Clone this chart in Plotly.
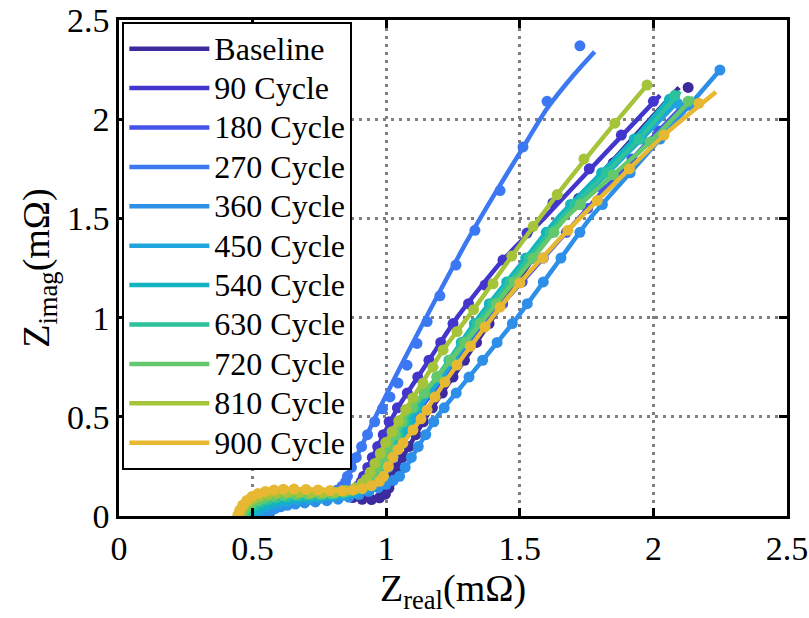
import plotly.graph_objects as go

# Nyquist data: measured impedance points (markers) and fitted model curves (lines), in mΩ
LABELS = ["Baseline", "90 Cycle", "180 Cycle", "270 Cycle", "360 Cycle", "450 Cycle",
          "540 Cycle", "630 Cycle", "720 Cycle", "810 Cycle", "900 Cycle"]
COLORS = ["#3d2a9e", "#4236cc", "#4653ea", "#3b78f2", "#2d8fe8", "#1fa5dc",
          "#12b4c2", "#2cc29c", "#64c86c", "#a5c43a", "#e7b832"]

base_re = [0.56, 0.567, 0.578, 0.594, 0.615, 0.64, 0.67, 0.705, 0.745, 0.79, 0.835, 0.875, 0.91, 0.945, 0.975, 0.997, 1.01, 1.016,
           1.02, 1.04, 1.061, 1.085, 1.111, 1.139, 1.173, 1.21, 1.25, 1.293, 1.338, 1.385, 1.435, 1.49, 1.55, 1.615, 1.72, 1.85, 1.99, 2.13]
base_im = [0.003, 0.025, 0.046, 0.066, 0.084, 0.099, 0.111, 0.119, 0.122, 0.118, 0.106, 0.093, 0.084, 0.083, 0.092, 0.11, 0.14, 0.17,
           0.20, 0.245, 0.295, 0.35, 0.41, 0.475, 0.545, 0.62, 0.70, 0.785, 0.875, 0.97, 1.07, 1.18, 1.30, 1.43, 1.60, 1.78, 1.97, 2.16]
base_fit_re = [0.56, 0.58, 0.615, 0.67, 0.745, 0.835, 0.91, 0.975, 1.005, 1.02, 1.085, 1.15, 1.275, 1.40, 1.52, 1.65, 1.82, 1.96, 2.096]
base_fit_im = [0.0, 0.048, 0.084, 0.111, 0.122, 0.106, 0.084, 0.092, 0.13, 0.2, 0.35, 0.5, 0.75, 1.0, 1.24, 1.5, 1.75, 1.96, 2.16]

c90_re = [0.55, 0.557, 0.568, 0.584, 0.605, 0.63, 0.66, 0.695, 0.735, 0.775, 0.815, 0.85, 0.875, 0.895, 0.907,
          0.915, 0.931, 0.948, 0.968, 0.989, 1.011, 1.042, 1.079, 1.118, 1.16, 1.204, 1.25, 1.308, 1.37, 1.437, 1.527, 1.624, 1.76, 1.88, 2.0]
c90_im = [0.003, 0.022, 0.04, 0.057, 0.072, 0.085, 0.095, 0.103, 0.108, 0.111, 0.114, 0.12, 0.133, 0.152, 0.175,
          0.20, 0.245, 0.295, 0.35, 0.41, 0.475, 0.545, 0.62, 0.70, 0.785, 0.875, 0.97, 1.07, 1.164, 1.29, 1.426, 1.578, 1.75, 1.92, 2.09]
c90_fit_re = [0.55, 0.568, 0.605, 0.66, 0.735, 0.815, 0.86, 0.89, 0.91, 0.94, 0.99, 1.05, 1.16, 1.265, 1.43, 1.59, 1.80, 2.025]
c90_fit_im = [0.0, 0.04, 0.072, 0.095, 0.108, 0.114, 0.124, 0.147, 0.19, 0.27, 0.41, 0.56, 0.785, 1.0, 1.28, 1.5, 1.80, 2.12]

c180_re = [0.54, 0.547, 0.558, 0.574, 0.595, 0.62, 0.65, 0.685, 0.725, 0.768, 0.81, 0.85, 0.888, 0.92, 0.948, 0.968,
           0.98, 0.999, 1.02, 1.043, 1.068, 1.095, 1.131, 1.173, 1.219, 1.267, 1.319, 1.373, 1.436, 1.509, 1.588, 1.674, 1.754, 1.81, 1.92, 2.02, 2.107]
c180_im = [0.003, 0.02, 0.036, 0.051, 0.064, 0.076, 0.086, 0.095, 0.102, 0.108, 0.114, 0.122, 0.134, 0.15, 0.17, 0.188,
           0.20, 0.245, 0.295, 0.35, 0.41, 0.475, 0.545, 0.62, 0.70, 0.785, 0.875, 0.97, 1.07, 1.18, 1.30, 1.43, 1.55, 1.65, 1.80, 1.94, 2.056]
c180_fit_re = [0.54, 0.558, 0.595, 0.65, 0.725, 0.81, 0.888, 0.948, 0.98, 1.043, 1.105, 1.219, 1.39, 1.588, 1.72, 1.92, 2.12]
c180_fit_im = [0.0, 0.036, 0.064, 0.086, 0.102, 0.114, 0.134, 0.17, 0.2, 0.35, 0.5, 0.70, 1.0, 1.30, 1.5, 1.80, 2.08]

c270_re = [0.53, 0.537, 0.548, 0.564, 0.585, 0.61, 0.64, 0.675, 0.715, 0.755, 0.79, 0.815, 0.835, 0.848,
           0.855, 0.87, 0.888, 0.908, 0.93, 0.957, 0.986, 1.014, 1.044, 1.078, 1.115, 1.153, 1.201, 1.261, 1.332, 1.426, 1.512, 1.602, 1.725]
c270_im = [0.003, 0.018, 0.033, 0.047, 0.06, 0.071, 0.081, 0.09, 0.098, 0.106, 0.116, 0.13, 0.15, 0.172,
           0.20, 0.245, 0.295, 0.35, 0.41, 0.475, 0.54, 0.60, 0.67, 0.76, 0.87, 0.98, 1.11, 1.265, 1.44, 1.64, 1.86, 2.09, 2.37]
c270_fit_re = [0.53, 0.548, 0.585, 0.64, 0.715, 0.79, 0.835, 0.855, 0.90, 0.96, 1.03, 1.11, 1.20, 1.30, 1.40, 1.50, 1.60, 1.70, 1.78]
c270_fit_im = [0.0, 0.033, 0.06, 0.081, 0.098, 0.116, 0.15, 0.2, 0.33, 0.50, 0.69, 0.90, 1.13, 1.38, 1.61, 1.83, 2.05, 2.22, 2.34]

c360_re = [0.55, 0.557, 0.568, 0.584, 0.605, 0.63, 0.66, 0.695, 0.735, 0.778, 0.82, 0.86, 0.898, 0.935, 0.97, 1.0, 1.027,
           1.05, 1.071, 1.094, 1.12, 1.148, 1.178, 1.217, 1.262, 1.31, 1.361, 1.415, 1.472, 1.528, 1.588, 1.654, 1.725, 1.809, 1.913, 2.025, 2.135, 2.249]
c360_im = [0.003, 0.015, 0.027, 0.037, 0.046, 0.054, 0.06, 0.066, 0.071, 0.077, 0.085, 0.095, 0.108, 0.124, 0.143, 0.16, 0.18,
           0.20, 0.245, 0.295, 0.35, 0.41, 0.475, 0.545, 0.62, 0.70, 0.785, 0.875, 0.97, 1.07, 1.18, 1.30, 1.43, 1.57, 1.73, 1.90, 2.07, 2.248]
c360_fit_re = [0.55, 0.568, 0.605, 0.66, 0.735, 0.82, 0.898, 0.97, 1.05, 1.12, 1.19, 1.31, 1.49, 1.654, 1.763, 1.913, 2.09, 2.249]
c360_fit_im = [0.0, 0.027, 0.046, 0.06, 0.071, 0.085, 0.108, 0.143, 0.2, 0.35, 0.5, 0.70, 1.0, 1.30, 1.5, 1.73, 2.0, 2.248]

c450_re = [0.51, 0.518, 0.53, 0.548, 0.57, 0.598, 0.63, 0.668, 0.71, 0.755, 0.80, 0.845, 0.885, 0.92, 0.95, 0.972,
           0.99, 1.007, 1.025, 1.045, 1.067, 1.091, 1.124, 1.165, 1.208, 1.254, 1.303, 1.354, 1.411, 1.474, 1.544, 1.619, 1.712, 1.83, 1.956, 2.09]
c450_im = [0.003, 0.018, 0.032, 0.045, 0.056, 0.066, 0.074, 0.081, 0.087, 0.092, 0.098, 0.106, 0.117, 0.133, 0.153, 0.177,
           0.20, 0.245, 0.295, 0.35, 0.41, 0.475, 0.545, 0.62, 0.70, 0.785, 0.875, 0.97, 1.07, 1.18, 1.30, 1.43, 1.57, 1.73, 1.90, 2.08]
c450_fit_re = [0.51, 0.53, 0.57, 0.63, 0.71, 0.80, 0.885, 0.95, 0.99, 1.045, 1.10, 1.208, 1.37, 1.544, 1.66, 1.83, 1.956, 2.10]
c450_fit_im = [0.0, 0.032, 0.056, 0.074, 0.087, 0.098, 0.117, 0.153, 0.2, 0.35, 0.5, 0.70, 1.0, 1.30, 1.5, 1.73, 1.90, 2.10]

c540_re = [0.49, 0.498, 0.51, 0.528, 0.55, 0.578, 0.61, 0.648, 0.69, 0.735, 0.78, 0.825, 0.865, 0.90, 0.93, 0.955,
           0.97, 0.988, 1.008, 1.03, 1.054, 1.08, 1.113, 1.151, 1.192, 1.235, 1.281, 1.33, 1.386, 1.451, 1.522, 1.599, 1.69, 1.806, 1.928, 2.06]
c540_im = [0.004, 0.02, 0.036, 0.05, 0.063, 0.074, 0.083, 0.09, 0.095, 0.099, 0.104, 0.11, 0.12, 0.135, 0.155, 0.178,
           0.20, 0.245, 0.295, 0.35, 0.41, 0.475, 0.545, 0.62, 0.70, 0.785, 0.875, 0.97, 1.07, 1.18, 1.30, 1.43, 1.57, 1.73, 1.90, 2.10]
c540_fit_re = [0.49, 0.51, 0.55, 0.61, 0.69, 0.78, 0.865, 0.93, 0.97, 1.03, 1.09, 1.192, 1.345, 1.522, 1.64, 1.806, 1.928, 2.07]
c540_fit_im = [0.0, 0.036, 0.063, 0.083, 0.095, 0.104, 0.12, 0.155, 0.2, 0.35, 0.5, 0.70, 1.0, 1.30, 1.5, 1.73, 1.90, 2.12]

c630_re = [0.47, 0.478, 0.49, 0.508, 0.53, 0.558, 0.59, 0.628, 0.67, 0.715, 0.76, 0.805, 0.848, 0.888, 0.92, 0.945,
           0.96, 0.978, 0.998, 1.02, 1.044, 1.07, 1.105, 1.146, 1.19, 1.237, 1.286, 1.339, 1.397, 1.463, 1.535, 1.613, 1.706, 1.823, 1.947, 2.08]
c630_im = [0.004, 0.022, 0.04, 0.056, 0.07, 0.082, 0.091, 0.097, 0.101, 0.104, 0.107, 0.112, 0.12, 0.134, 0.155, 0.178,
           0.20, 0.245, 0.295, 0.35, 0.41, 0.475, 0.545, 0.62, 0.70, 0.785, 0.875, 0.97, 1.07, 1.18, 1.30, 1.43, 1.57, 1.73, 1.90, 2.12]
c630_fit_re = [0.47, 0.49, 0.53, 0.59, 0.67, 0.76, 0.848, 0.92, 0.96, 1.02, 1.08, 1.19, 1.355, 1.535, 1.655, 1.823, 1.947, 2.10]
c630_fit_im = [0.0, 0.04, 0.07, 0.091, 0.101, 0.107, 0.12, 0.155, 0.2, 0.35, 0.5, 0.70, 1.0, 1.30, 1.5, 1.73, 1.90, 2.14]

c720_re = [0.46, 0.467, 0.479, 0.496, 0.518, 0.545, 0.577, 0.615, 0.66, 0.705, 0.75, 0.795, 0.84, 0.88, 0.91, 0.935,
           0.95, 0.968, 0.988, 1.01, 1.034, 1.06, 1.097, 1.142, 1.19, 1.241, 1.295, 1.352, 1.412, 1.478, 1.55, 1.628, 1.727, 1.85, 1.987, 2.13]
c720_im = [0.004, 0.025, 0.045, 0.063, 0.078, 0.09, 0.099, 0.105, 0.108, 0.109, 0.11, 0.113, 0.12, 0.133, 0.152, 0.176,
           0.20, 0.245, 0.295, 0.35, 0.41, 0.475, 0.545, 0.62, 0.70, 0.785, 0.875, 0.97, 1.07, 1.18, 1.30, 1.43, 1.57, 1.72, 1.885, 2.09]
c720_fit_re = [0.46, 0.479, 0.518, 0.577, 0.66, 0.75, 0.84, 0.91, 0.95, 1.01, 1.07, 1.19, 1.37, 1.55, 1.67, 1.85, 1.987, 2.15]
c720_fit_im = [0.0, 0.045, 0.078, 0.099, 0.108, 0.11, 0.12, 0.152, 0.2, 0.35, 0.5, 0.70, 1.0, 1.30, 1.5, 1.72, 1.885, 2.11]

c810_re = [0.45, 0.457, 0.468, 0.484, 0.504, 0.528, 0.557, 0.59, 0.63, 0.675, 0.72, 0.765, 0.81, 0.85, 0.885, 0.91, 0.925,
           0.94, 0.958, 0.978, 0.998, 1.022, 1.047, 1.073, 1.10, 1.138, 1.175, 1.213, 1.265, 1.327, 1.40, 1.47, 1.55, 1.64, 1.74, 1.856, 1.976]
c810_im = [0.005, 0.028, 0.05, 0.07, 0.087, 0.10, 0.109, 0.115, 0.118, 0.118, 0.117, 0.117, 0.12, 0.128, 0.142, 0.165, 0.185,
           0.22, 0.265, 0.315, 0.37, 0.425, 0.48, 0.537, 0.595, 0.67, 0.75, 0.837, 0.93, 1.04, 1.17, 1.31, 1.46, 1.62, 1.80, 1.98, 2.172]
c810_fit_re = [0.45, 0.468, 0.504, 0.557, 0.63, 0.72, 0.81, 0.87, 0.91, 0.94, 0.998, 1.10, 1.213, 1.327, 1.47, 1.64, 1.856, 1.976]
c810_fit_im = [0.0, 0.05, 0.087, 0.109, 0.118, 0.117, 0.12, 0.135, 0.165, 0.22, 0.37, 0.595, 0.837, 1.04, 1.31, 1.62, 1.98, 2.172]

c900_re = [0.445, 0.452, 0.463, 0.478, 0.497, 0.52, 0.548, 0.58, 0.615, 0.655, 0.70, 0.745, 0.79, 0.835, 0.875, 0.91, 0.945, 0.975,
           0.99, 1.008, 1.025, 1.044, 1.063, 1.10, 1.13, 1.153, 1.183, 1.22, 1.265, 1.315, 1.37, 1.426, 1.50, 1.587, 1.68, 1.79, 1.91, 2.04, 2.17]
c900_im = [0.005, 0.03, 0.055, 0.078, 0.098, 0.113, 0.124, 0.131, 0.135, 0.136, 0.134, 0.131, 0.128, 0.127, 0.13, 0.138, 0.153, 0.175,
           0.20, 0.25, 0.297, 0.335, 0.368, 0.433, 0.49, 0.534, 0.60, 0.675, 0.761, 0.855, 0.953, 1.053, 1.174, 1.30, 1.44, 1.59, 1.75, 1.92, 2.08]
c900_fit_re = [0.445, 0.463, 0.497, 0.548, 0.615, 0.70, 0.79, 0.875, 0.945, 0.99, 1.044, 1.10, 1.22, 1.37, 1.50, 1.68, 1.91, 2.04, 2.234]
c900_fit_im = [0.0, 0.055, 0.098, 0.124, 0.135, 0.134, 0.128, 0.13, 0.153, 0.2, 0.335, 0.433, 0.675, 0.953, 1.174, 1.44, 1.75, 1.92, 2.137]

MEASURED = [(base_re, base_im), (c90_re, c90_im), (c180_re, c180_im), (c270_re, c270_im),
            (c360_re, c360_im), (c450_re, c450_im), (c540_re, c540_im), (c630_re, c630_im),
            (c720_re, c720_im), (c810_re, c810_im), (c900_re, c900_im)]
FITTED = [(base_fit_re, base_fit_im), (c90_fit_re, c90_fit_im), (c180_fit_re, c180_fit_im),
          (c270_fit_re, c270_fit_im), (c360_fit_re, c360_fit_im), (c450_fit_re, c450_fit_im),
          (c540_fit_re, c540_fit_im), (c630_fit_re, c630_fit_im), (c720_fit_re, c720_fit_im),
          (c810_fit_re, c810_fit_im), (c900_fit_re, c900_fit_im)]

TICKS = [0, 0.5, 1, 1.5, 2, 2.5]
TICK_TEXT = ["0", "0.5", "1", "1.5", "2", "2.5"]

SERIF = '"Liberation Serif", "Times New Roman", Times, serif'

fig = go.Figure()
for label, color, (mx, my), (fx, fy) in zip(LABELS, COLORS, MEASURED, FITTED):
    fig.add_trace(go.Scatter(x=mx, y=my, mode="markers", showlegend=False,
                             marker=dict(color=color, size=11, line=dict(width=0)),
                             hoverinfo="skip"))
    # larger glyphs inside a compact legend row
    fig.add_trace(go.Scatter(x=fx, y=fy, mode="lines",
                             name='<span style="font-size:32px">%s</span>' % label,
                             line=dict(color=color, width=4.5, shape="spline", smoothing=0.6)))

axis_common = dict(
    range=[0, 2.5], tickvals=TICKS, ticktext=TICK_TEXT, automargin=False,
    showline=True, linecolor="black", linewidth=2.5, mirror="ticks",
    ticks="inside", ticklen=8, tickwidth=2.5, tickcolor="black",
    showgrid=True, gridcolor="#7f7f7f", gridwidth=2.5, griddash="3px,5px",
    zeroline=False, tickfont=dict(family=SERIF, size=34, color="black"),
)

fig.update_layout(
    width=809, height=618,
    margin=dict(l=119, r=22, t=20, b=102),
    paper_bgcolor="white", plot_bgcolor="white",
    font=dict(family=SERIF, color="black"),
    xaxis=dict(**axis_common,
               title=dict(text="Z<sub>real</sub>(mΩ)", font=dict(family=SERIF, size=38), standoff=6)),
    yaxis=dict(**axis_common,
               title=dict(text="Z<sub>imag</sub>(mΩ)", font=dict(family=SERIF, size=38), standoff=6)),
    legend=dict(x=0.005, y=0.996, xanchor="left", yanchor="top",
                bgcolor="white", bordercolor="black", borderwidth=2,
                font=dict(family=SERIF, size=28, color="black"),
                itemwidth=80, tracegroupgap=0),
    showlegend=True,
)

fig.write_html("out.html")
